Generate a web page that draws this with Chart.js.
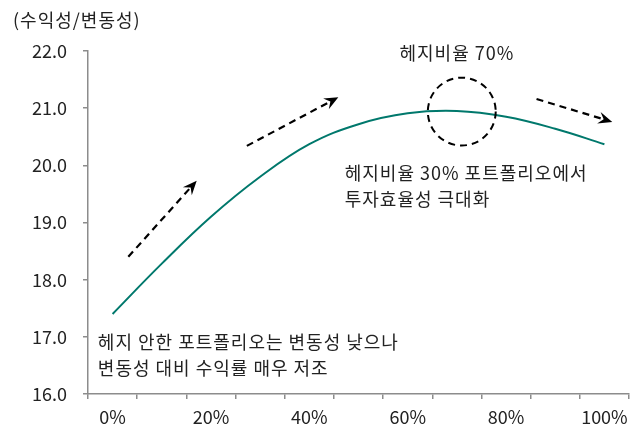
<!DOCTYPE html>
<html><head><meta charset="utf-8">
<script src="https://cdn.jsdelivr.net/npm/chart.js@4/dist/chart.umd.min.js"></script>
<style>html,body{margin:0;padding:0;background:#fff;overflow:hidden}</style>
</head><body>
<canvas id="c" width="635" height="428"></canvas>
<script>
// ---- data ----
const categories = ['0%','10%','20%','30%','40%','50%','60%','70%','80%','90%','100%'];
const shownLabels = ['0%','20%','40%','60%','80%','100%'];
const ratioValues = [17.40, 18.28, 19.10, 19.80, 20.37, 20.72, 20.91, 20.95, 20.85, 20.64, 20.37];
const yMin = 16, yMax = 22, yStep = 1;
const yTitle = '(수익성/변동성)';
// annotations in data space (x = category index, y = value)
const noteTexts = [
  ['헤지비율 70%'],
  ['헤지비율 30% 포트폴리오에서', '투자효율성 극대화'],
  ['헤지 안한 포트폴리오는 변동성 낮으나', '변동성 대비 수익률 매우 저조']
];
const noteX = [7.0, 4.72, -0.30];
const noteY = [21.96, 19.87, 16.91];
const noteAlign = ['center', 'left', 'left'];
const arrowFrom = [[0.32, 18.40], [2.73, 20.34], [8.62, 21.16]];
const arrowTo   = [[1.71, 19.73], [4.59, 21.19], [10.16, 20.76]];
const circleAt = [7.1, 20.94];
const circleRadiusCat = 0.69;

// ---- styles ----
const FONT = "'Noto Sans CJK KR', 'Noto Sans', sans-serif";
const TEXT = '#222222';
const AXIS = '#8c8c8c';
Chart.defaults.font.family = FONT;
Chart.defaults.font.size = 18;
Chart.defaults.color = TEXT;

const annot = {
  id: 'annot',
  afterDatasetsDraw(chart) {
    const ctx = chart.ctx, xs = chart.scales.x, ys = chart.scales.y;
    ctx.save();
    // dashed arrows
    ctx.strokeStyle = '#000'; ctx.fillStyle = '#000'; ctx.lineWidth = 2.2;
    arrowFrom.forEach((f, i) => {
      const x0 = xs.getPixelForValue(f[0]), y0 = ys.getPixelForValue(f[1]);
      const x1 = xs.getPixelForValue(arrowTo[i][0]), y1 = ys.getPixelForValue(arrowTo[i][1]);
      const len = Math.hypot(x1 - x0, y1 - y0);
      const ux = (x1 - x0) / len, uy = (y1 - y0) / len, nx = -uy, ny = ux;
      ctx.setLineDash([7, 5]);
      ctx.beginPath(); ctx.moveTo(x0, y0); ctx.lineTo(x1 - 9 * ux, y1 - 9 * uy); ctx.stroke();
      ctx.setLineDash([]);
      ctx.beginPath();
      ctx.moveTo(x1, y1);
      ctx.lineTo(x1 - 14 * ux + 6 * nx, y1 - 14 * uy + 6 * ny);
      ctx.lineTo(x1 - 9 * ux, y1 - 9 * uy);
      ctx.lineTo(x1 - 14 * ux - 6 * nx, y1 - 14 * uy - 6 * ny);
      ctx.closePath(); ctx.fill();
    });
    // dashed circle
    const cx = xs.getPixelForValue(circleAt[0]), cy = ys.getPixelForValue(circleAt[1]);
    const r = circleRadiusCat * Math.abs(xs.getPixelForValue(1) - xs.getPixelForValue(0));
    ctx.setLineDash([7, 5]); ctx.lineWidth = 2;
    ctx.beginPath(); ctx.arc(cx, cy, r, 0, Math.PI * 2); ctx.stroke();
    ctx.setLineDash([]);
    // texts
    ctx.fillStyle = TEXT; ctx.font = '18px ' + FONT; ctx.textBaseline = 'middle';
    ctx.letterSpacing = '1px';
    noteTexts.forEach((lines, i) => {
      const x = xs.getPixelForValue(noteX[i]), y = ys.getPixelForValue(noteY[i]);
      ctx.textAlign = noteAlign[i];
      lines.forEach((t, k) => ctx.fillText(t, x, y + k * 26.5));
    });
    ctx.textAlign = 'left';
    ctx.fillText(yTitle, 13, 20);
    ctx.restore();
  }
};

new Chart(document.getElementById('c'), {
  type: 'line',
  data: {
    labels: categories,
    datasets: [{
      data: ratioValues,
      borderColor: '#00786c',
      borderWidth: 2,
      pointRadius: 0,
      fill: false,
      tension: 0.4
    }]
  },
  options: {
    responsive: false,
    devicePixelRatio: 1,
    animation: false,
    layout: { padding: { top: 51, right: 6, bottom: 0, left: 0 } },
    plugins: { legend: { display: false }, tooltip: { enabled: false } },
    scales: {
      x: {
        offset: true,
        grid: { offset: true, drawOnChartArea: false, drawTicks: true, tickLength: 5, color: AXIS, lineWidth: 1.5 },
        border: { color: AXIS, width: 1.5 },
        ticks: {
          autoSkip: false, maxRotation: 0, padding: 7, color: TEXT,
          callback: (v, i) => shownLabels.includes(categories[i]) ? categories[i] : ''
        },
        afterFit: s => { s.height = 34; }
      },
      y: {
        min: yMin, max: yMax,
        grid: { drawOnChartArea: false, drawTicks: true, tickLength: 5, color: AXIS, lineWidth: 1.5 },
        border: { color: AXIS, width: 1.5 },
        ticks: { stepSize: yStep, padding: 16, color: TEXT, callback: v => v.toFixed(1) },
        afterFit: s => { s.width = 88; }
      }
    }
  },
  plugins: [annot]
});
</script>
</body></html>
